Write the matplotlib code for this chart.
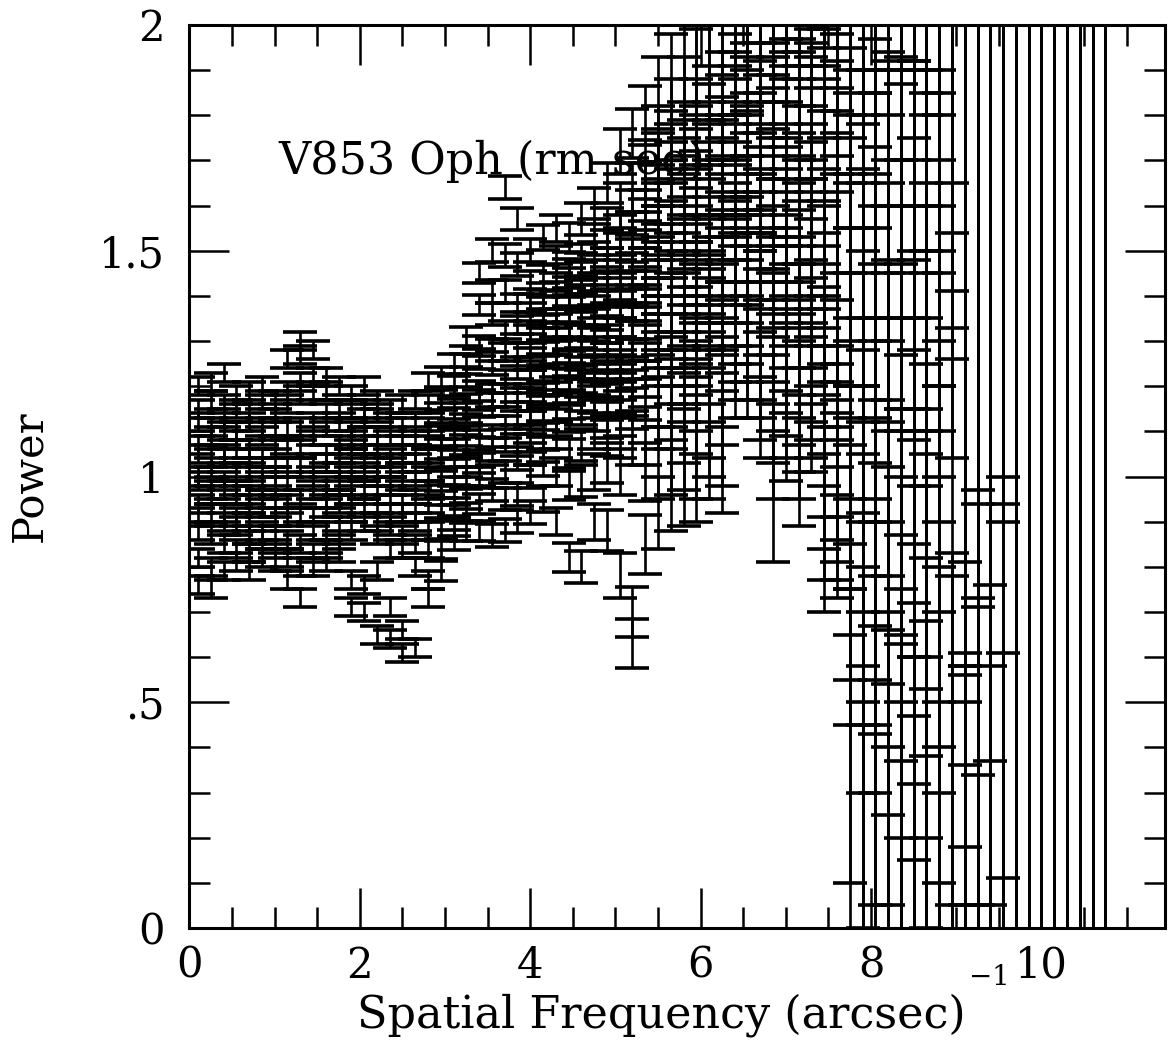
import matplotlib
matplotlib.use("Agg")
import matplotlib.pyplot as plt
from matplotlib.ticker import MultipleLocator

plt.rcParams['font.family'] = ['DejaVu Serif']
plt.rcParams['mathtext.fontset'] = 'dejavuserif'

# ---------------------------------------------------------------------------
# Power spectrum of V853 Oph: several power estimates per frequency bin,
# each with its 1-sigma error bar.
# ---------------------------------------------------------------------------

# Low frequencies (0.1 - 2.8 arcsec^-1)
freq_low = [0.10, 0.25, 0.40, 0.55, 0.70, 0.85, 1.00, 1.15, 1.30, 1.45,
            1.60, 1.75, 1.90, 2.05, 2.20, 2.35, 2.50, 2.65, 2.80]
sigma_low = [0.020, 0.020, 0.020, 0.020, 0.020, 0.020, 0.020, 0.020, 0.020,
             0.020, 0.020, 0.020, 0.020, 0.020, 0.020, 0.020, 0.020, 0.020,
             0.020]
power_low = [
    [1.20, 1.15, 1.12, 1.07, 1.05, 1.00, 0.99, 0.94, 0.91, 0.88, 0.82, 0.76],
    [1.21, 1.17, 1.11, 1.09, 1.04, 1.02, 0.97, 0.96, 0.92, 0.87, 0.80, 0.75],
    [1.23, 1.16, 1.13, 1.10, 1.05, 1.04, 0.99, 0.97, 0.92, 0.90, 0.85, 0.79],
    [1.18, 1.15, 1.10, 1.08, 1.06, 1.01, 0.98, 0.96, 0.91, 0.89, 0.84, 0.81],
    [1.19, 1.14, 1.12, 1.06, 1.04, 1.01, 0.96, 0.94, 0.90, 0.87, 0.83, 0.79],
    [1.20, 1.17, 1.11, 1.09, 1.04, 1.02, 0.99, 0.95, 0.93, 0.88, 0.86, 0.82],
    [1.17, 1.14, 1.11, 1.06, 1.04, 1.00, 0.98, 0.93, 0.91, 0.87, 0.84, 0.81],
    [1.26, 1.19, 1.16, 1.10, 1.07, 1.02, 0.99, 0.94, 0.91, 0.86, 0.82, 0.77],
    [1.30, 1.27, 1.21, 1.18, 1.11, 1.06, 1.02, 0.95, 0.92, 0.85, 0.80, 0.73],
    [1.28, 1.22, 1.19, 1.12, 1.09, 1.03, 1.00, 0.97, 0.91, 0.88, 0.83, 0.80],
    [1.22, 1.19, 1.14, 1.11, 1.05, 1.03, 0.98, 0.95, 0.93, 0.88, 0.84, 0.81],
    [1.20, 1.15, 1.12, 1.07, 1.05, 1.01, 0.99, 0.95, 0.94, 0.89, 0.86, 0.83],
    [1.18, 1.15, 1.10, 1.08, 1.04, 1.02, 0.98, 0.96, 0.92, 0.88, 0.77, 0.71],
    [1.20, 1.15, 1.13, 1.09, 1.07, 1.03, 1.01, 0.97, 0.93, 0.90, 0.76, 0.70],
    [1.17, 1.14, 1.09, 1.07, 1.02, 1.00, 0.96, 0.94, 0.90, 0.87, 0.79, 0.65],
    [1.15, 1.12, 1.09, 1.04, 1.02, 0.98, 0.96, 0.92, 0.89, 0.84, 0.71, 0.64],
    [1.16, 1.11, 1.07, 1.05, 1.01, 0.99, 0.94, 0.92, 0.87, 0.84, 0.66, 0.61],
    [1.17, 1.12, 1.09, 1.05, 1.03, 0.99, 0.96, 0.92, 0.90, 0.85, 0.80, 0.62],
    [1.21, 1.16, 1.11, 1.08, 1.04, 1.01, 0.97, 0.94, 0.88, 0.84, 0.77, 0.73],
]

# Middle frequencies (2.95 - 5.65 arcsec^-1)
freq_mid = [2.95, 3.10, 3.25, 3.40, 3.55, 3.70, 3.85, 4.00, 4.15, 4.30,
            4.45, 4.60, 4.75, 4.90, 5.05, 5.20, 5.35, 5.50, 5.65]
sigma_mid = [0.022, 0.022, 0.022, 0.022, 0.025, 0.025, 0.025, 0.025, 0.028,
             0.030, 0.032, 0.035, 0.040, 0.045, 0.050, 0.055, 0.065, 0.080,
             0.100]
power_mid = [
    [1.22, 1.17, 1.14, 1.09, 1.06, 1.04, 0.99, 0.96, 0.93, 0.88, 0.84, 0.79],
    [1.25, 1.20, 1.15, 1.13, 1.08, 1.06, 1.02, 1.00, 0.96, 0.93, 0.89, 0.86],
    [1.31, 1.25, 1.22, 1.16, 1.14, 1.09, 1.07, 1.02, 1.00, 0.95, 0.92, 0.88],
    [1.45, 1.38, 1.29, 1.26, 1.19, 1.17, 1.11, 1.08, 1.03, 1.00, 0.94, 0.88],
    [1.50, 1.41, 1.36, 1.28, 1.25, 1.18, 1.16, 1.09, 1.06, 1.00, 0.97, 0.87],
    [1.64, 1.49, 1.41, 1.32, 1.28, 1.21, 1.18, 1.11, 1.08, 1.01, 0.95, 0.88],
    [1.57, 1.47, 1.38, 1.34, 1.27, 1.24, 1.17, 1.14, 1.07, 1.04, 0.96, 0.90],
    [1.50, 1.43, 1.39, 1.36, 1.32, 1.29, 1.26, 1.23, 1.21, 1.17, 1.14, 1.12,
     1.08, 1.05, 1.00, 0.92],
    [1.53, 1.44, 1.40, 1.37, 1.33, 1.30, 1.27, 1.24, 1.22, 1.18, 1.15, 1.13,
     1.09, 1.06, 1.03, 0.95],
    [1.55, 1.48, 1.44, 1.40, 1.37, 1.33, 1.30, 1.28, 1.24, 1.21, 1.19, 1.15,
     1.12, 1.09, 1.01, 0.90],
    [1.53, 1.45, 1.43, 1.41, 1.37, 1.34, 1.31, 1.27, 1.25, 1.22, 1.19, 1.16,
     1.13, 1.05, 0.98, 0.82],
    [1.57, 1.48, 1.46, 1.44, 1.40, 1.37, 1.34, 1.30, 1.27, 1.25, 1.21, 1.18,
     1.15, 1.07, 0.99, 0.80],
    [1.60, 1.53, 1.48, 1.44, 1.41, 1.37, 1.34, 1.31, 1.27, 1.24, 1.21, 1.17,
     1.14, 1.10, 1.01, 0.90],
    [1.65, 1.55, 1.50, 1.46, 1.42, 1.38, 1.34, 1.31, 1.28, 1.25, 1.21, 1.17,
     1.13, 1.09, 1.03, 0.88],
    [1.72, 1.60, 1.53, 1.49, 1.44, 1.40, 1.36, 1.33, 1.30, 1.26, 1.22, 1.18,
     1.14, 1.09, 1.01, 0.78],
    [1.76, 1.64, 1.58, 1.53, 1.48, 1.44, 1.40, 1.36, 1.32, 1.29, 1.25, 1.20,
     1.16, 1.08, 0.70, 0.63],
    [1.80, 1.68, 1.63, 1.57, 1.52, 1.48, 1.44, 1.40, 1.36, 1.32, 1.28, 1.24,
     1.19, 1.09, 1.01, 0.85],
    [1.85, 1.74, 1.68, 1.61, 1.57, 1.52, 1.48, 1.44, 1.40, 1.36, 1.32, 1.28,
     1.19, 1.14, 1.03, 0.92],
    [1.88, 1.78, 1.71, 1.64, 1.60, 1.55, 1.50, 1.46, 1.42, 1.38, 1.34, 1.30,
     1.21, 1.16, 1.06, 0.98],
]

# High frequencies (5.8 - 7.6 arcsec^-1)
freq_high = [5.80, 5.95, 6.10, 6.25, 6.40, 6.55, 6.70, 6.85, 7.00, 7.15,
             7.30, 7.45, 7.60]
sigma_high = [0.13, 0.15, 0.17, 0.18, 0.20, 0.21, 0.23, 0.25, 0.27, 0.29,
              0.31, 0.35, 0.45]
power_high = [
    [1.92, 1.80, 1.70, 1.62, 1.58, 1.53, 1.49, 1.45, 1.41, 1.37, 1.33, 1.29,
     1.25, 1.16, 1.10, 1.02],
    [1.95, 1.84, 1.73, 1.67, 1.62, 1.57, 1.53, 1.49, 1.45, 1.41, 1.37, 1.33,
     1.25, 1.20, 1.10, 1.05],
    [1.96, 1.86, 1.74, 1.70, 1.66, 1.61, 1.57, 1.53, 1.49, 1.45, 1.41, 1.33,
     1.29, 1.21, 1.17, 1.12],
    [1.98, 1.88, 1.76, 1.71, 1.66, 1.61, 1.57, 1.53, 1.49, 1.45, 1.41, 1.37,
     1.29, 1.25, 1.16, 1.10],
    [2.00, 1.90, 1.82, 1.78, 1.74, 1.71, 1.68, 1.63, 1.60, 1.58, 1.54, 1.49,
     1.45, 1.41, 1.37, 1.33],
    [2.02, 1.92, 1.83, 1.79, 1.75, 1.72, 1.69, 1.64, 1.61, 1.59, 1.55, 1.50,
     1.46, 1.42, 1.38, 1.34],
    [1.99, 1.90, 1.81, 1.77, 1.73, 1.69, 1.66, 1.62, 1.60, 1.55, 1.50, 1.45,
     1.40, 1.36, 1.31, 1.27],
    [2.00, 1.91, 1.80, 1.76, 1.71, 1.68, 1.64, 1.61, 1.58, 1.52, 1.46, 1.41,
     1.35, 1.28, 1.20, 1.06],
    [2.02, 1.93, 1.82, 1.78, 1.74, 1.70, 1.67, 1.64, 1.61, 1.56, 1.51, 1.46,
     1.41, 1.36, 1.31, 1.26],
    [1.99, 1.90, 1.80, 1.76, 1.72, 1.68, 1.65, 1.62, 1.59, 1.53, 1.47, 1.42,
     1.36, 1.30, 1.24, 1.18],
    [1.97, 1.88, 1.79, 1.75, 1.71, 1.68, 1.65, 1.62, 1.60, 1.55, 1.51, 1.47,
     1.43, 1.39, 1.35, 1.32],
    [1.95, 1.86, 1.77, 1.72, 1.68, 1.64, 1.60, 1.56, 1.53, 1.46, 1.40, 1.33,
     1.26, 1.19, 1.12, 1.05],
    [1.90, 1.84, 1.74, 1.70, 1.66, 1.62, 1.59, 1.56, 1.53, 1.47, 1.41, 1.36,
     1.31, 1.26, 1.22, 1.18],
]

# Beyond the cutoff (7.75 - 10.75 arcsec^-1): noise dominated
freq_tail = [7.75, 7.90, 8.05, 8.20, 8.35, 8.50, 8.65, 8.80, 8.95, 9.10,
             9.25, 9.40, 9.55, 9.70, 9.85, 10.00, 10.15, 10.30, 10.45,
             10.60, 10.75]
sigma_tail = [0.55, 0.60, 0.65, 0.70, 0.75, 0.80, 0.90, 1.00, 1.20, 1.50,
              1.80, 2.00, 2.20, 2.60, 2.90, 3.20, 3.50, 3.80, 4.10, 4.40,
              4.80]
power_tail = [
    [2.45, 2.35, 2.22, 2.10, 2.00, 1.90, 1.85, 1.75, 1.68, 1.62, 1.50, 1.40,
     1.30, 1.20, 1.10, 1.00, 0.65, 0.20],
    [2.50, 2.40, 2.28, 2.15, 2.05, 1.95, 1.88, 1.80, 1.72, 1.65, 1.52, 1.40,
     1.30, 1.18, 1.05, 0.90, 0.60, 0.30, -0.10],
    [2.55, 2.50, 2.32, 2.20, 2.12, 2.00, 1.95, 1.82, 1.78, 1.68, 1.55, 1.43,
     1.32, 1.20, 1.08, 0.95, 0.70, 0.30, -0.20],
    [2.62, 2.60, 2.40, 2.30, 2.18, 2.05, 2.00, 1.87, 1.82, 1.72, 1.60, 1.48,
     1.36, 1.24, 1.10, 0.95, 0.75, 0.40, 0.00],
    [2.68, 2.65, 2.45, 2.35, 2.22, 2.10, 2.02, 1.90, 1.85, 1.75, 1.62, 1.50,
     1.38, 1.25, 1.12, 0.95, 0.70, 0.40, -0.10],
    [2.72, 2.70, 2.50, 2.40, 2.28, 2.15, 2.08, 1.95, 1.88, 1.78, 1.65, 1.52,
     1.40, 1.27, 1.12, 0.95, 0.70, 0.30, -0.20],
    [2.80, 2.75, 2.55, 2.50, 2.35, 2.25, 2.15, 2.05, 1.95, 1.88, 1.72, 1.58,
     1.43, 1.28, 1.10, 0.90, 0.60, 0.20, -0.30],
    [2.90, 2.85, 2.70, 2.60, 2.45, 2.30, 2.20, 2.10, 2.00, 1.90, 1.70, 1.50,
     1.30, 1.10, 0.80, 0.50, 0.20, -0.20, -0.60],
    [2.85, 2.74, 2.61, 2.53, 2.46, 2.24, 1.00, -0.37, -0.42, -1.15],
    [2.31, 2.11, 2.08, 1.20, 1.00, -0.94, -0.92, -1.00, -1.14, -1.32, -1.45],
    [2.77, 2.74, 2.53, 1.10, 0.90, -1.09, -1.46, -1.75],
    [2.76, 2.37, 1.20, 1.00, 0.80, -1.42, -1.95],
    [3.20, 3.14, 3.10, 1.00, 0.90, -1.59, -2.09],
    [1.30, 1.00, 0.70, 1.50, 0.40, 1.10],
    [1.20, 0.90, 1.40, 0.60, 1.00, 1.60],
    [1.00, 1.30, 0.50, 1.70, 0.80, 1.10],
    [1.10, 0.70, 1.50, 0.90, 1.30, 0.30],
    [0.90, 1.20, 1.60, 0.50, 1.00, 1.40],
    [1.30, 0.80, 1.10, 1.70, 0.40, 1.00],
    [1.00, 1.40, 0.60, 1.20, 0.90, 1.60],
    [1.20, 0.80, 1.50, 1.00, 0.50, 1.30],
]

x_ticks = [0, 2, 4, 6, 8, 10]
y_ticks = [0, 0.5, 1, 1.5, 2]
y_tick_labels = ["0", ".5", "1", "1.5", "2"]


def expand(freqs, powers, sigmas):
    """Flatten per-bin lists into parallel x, y, yerr sequences."""
    xs, ys, es = [], [], []
    for f, p, s in zip(freqs, powers, sigmas):
        xs.extend([f] * len(p))
        ys.extend(p)
        es.extend([s] * len(p))
    return xs, ys, es


fig = plt.figure(figsize=(11.68, 10.41), dpi=100)
ax = fig.add_axes([0.1622, 0.1085, 0.8352, 0.8675])

for freqs, powers, sigmas in [(freq_low, power_low, sigma_low),
                              (freq_mid, power_mid, sigma_mid),
                              (freq_high, power_high, sigma_high),
                              (freq_tail, power_tail, sigma_tail)]:
    xs, ys, es = expand(freqs, powers, sigmas)
    ax.errorbar(xs, ys, yerr=es, fmt='none', ecolor='black',
                elinewidth=1.9, capsize=12, capthick=2.6)

ax.set_xlim(0, 11.45)
ax.set_ylim(0, 2)

ax.set_xticks(x_ticks)
ax.set_xticklabels([str(t) for t in x_ticks])
ax.xaxis.set_minor_locator(MultipleLocator(0.5))
ax.set_yticks(y_ticks)
ax.set_yticklabels(y_tick_labels)
ax.yaxis.set_minor_locator(MultipleLocator(0.1))

ax.tick_params(which='both', direction='in', top=True, right=True,
               width=1.8, labelsize=30, colors='black')
ax.tick_params(which='major', length=29)
ax.tick_params(which='minor', length=15)
ax.tick_params(axis='x', which='major', pad=12)
ax.tick_params(axis='y', which='major', pad=18)

for sp in ax.spines.values():
    sp.set_linewidth(2.2)

ax.text(1.04, 1.697, "V853 Oph (rm see)", fontsize=32, ha='left', va='center')

# Axis titles; the exponent of the frequency unit is set as its own raised text
ax.set_xlabel("Spatial Frequency (arcsec)", fontsize=32)
ax.xaxis.set_label_coords(0.484, -0.072)
ax.text(0.7985, -0.055, "$-1$", transform=ax.transAxes, fontsize=20,
        ha='left', va='center')
ax.set_ylabel("Power", fontsize=30)
ax.yaxis.set_label_coords(-0.143, 0.5)

fig.savefig("out.png", dpi=100, facecolor='white')
